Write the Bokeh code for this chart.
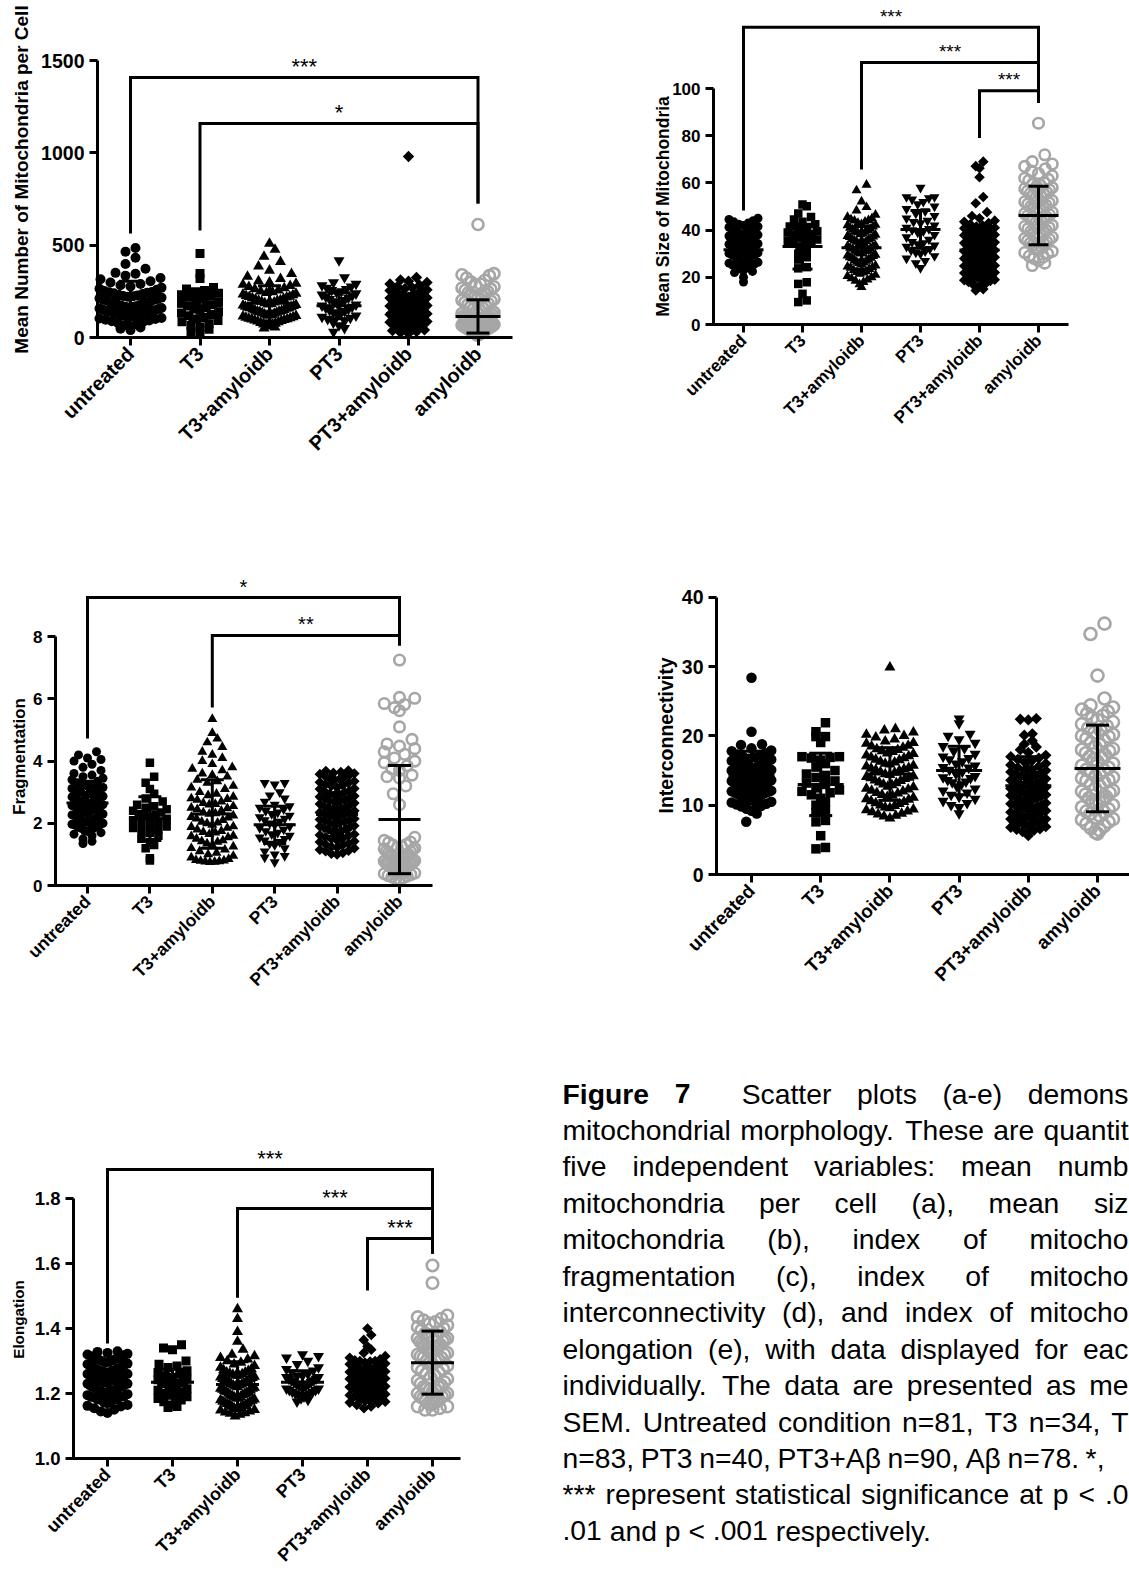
import math
from bokeh.plotting import figure
from bokeh.models import Range1d, FixedTicker, LinearAxis, PrintfTickFormatter
from bokeh.embed import file_html
from bokeh.resources import INLINE
from bokeh.core.properties import value

categories = ["untreated", "T3", "T3+amyloidb", "PT3", "PT3+amyloidb", "amyloidb"]

# ---------------- (a) Mean Number of Mitochondria per Cell ----------------
a_untreated = [485, 465, 432, 398, 372, 350, 345, 335, 322, 315, 305, 298, 290, 283, 276, 270, 264, 258, 252, 247,
               243, 240, 236, 232, 228, 224, 220, 216, 212, 208, 204, 200, 195, 190, 186, 182, 178, 175, 172, 169,
               166, 163, 160, 157, 154, 151, 148, 145, 142, 139, 136, 133, 130, 127, 124, 121, 118, 115, 112, 109,
               106, 103, 100, 96, 92, 88, 84, 78, 72, 66, 60, 54, 47, 40, 245, 225, 205, 185, 165, 145, 125]
a_t3 = [455, 347, 319, 271, 262, 255, 248, 240, 232, 225, 218, 210, 200, 192, 185, 178, 170, 162, 155, 148,
        140, 132, 125, 118, 110, 100, 92, 85, 75, 65, 55, 45, 32, 20]
a_t3ab = [509, 476, 438, 410, 385, 363, 345, 330, 318, 305, 298, 292, 286, 280, 274, 268, 262, 256, 250, 246,
          242, 238, 234, 230, 226, 222, 218, 214, 210, 206, 202, 198, 194, 190, 186, 183, 180, 177, 174, 171,
          168, 165, 162, 159, 156, 153, 150, 147, 144, 141, 138, 135, 132, 129, 126, 123, 120, 117, 114, 111,
          108, 105, 102, 99, 96, 93, 90, 87, 84, 80, 76, 72, 68, 64, 60, 55, 50, 160, 140, 120, 100, 200, 220]
a_pt3 = [417, 325, 298, 290, 282, 275, 268, 262, 256, 250, 244, 238, 232, 226, 220, 214, 208, 202, 196, 190,
         184, 178, 172, 166, 160, 154, 148, 142, 136, 130, 124, 118, 112, 106, 100, 90, 80, 65, 50, 30]
a_pt3ab = [980, 325, 312, 305, 298, 290, 283, 276, 270, 264, 258, 254, 250, 246, 242, 238, 234, 230, 226, 222,
           218, 214, 210, 206, 203, 200, 197, 194, 191, 188, 185, 182, 179, 176, 173, 170, 167, 164, 161, 158,
           155, 152, 149, 146, 143, 140, 137, 134, 131, 128, 125, 122, 119, 116, 113, 110, 107, 104, 101, 98,
           95, 92, 89, 86, 83, 80, 77, 73, 69, 65, 61, 57, 53, 49, 45, 41, 37, 32, 27, 22,
           245, 225, 215, 185, 165, 150, 130, 110, 90, 60]
a_ab = [612, 346, 340, 335, 322, 310, 300, 290, 282, 275, 268, 262, 256, 250, 244, 238, 232, 226, 220, 214,
        208, 202, 196, 190, 184, 178, 172, 166, 160, 154, 148, 142, 136, 130, 124, 118, 112, 106, 100, 95,
        90, 85, 80, 75, 70, 65, 60, 56, 52, 48, 44, 40, 36, 32, 28, 24, 20, 18, 15, 12,
        110, 105, 98, 92, 88, 82, 78, 72, 68, 62, 58, 54, 50, 46, 42, 38, 34, 30]
a_values = [a_untreated, a_t3, a_t3ab, a_pt3, a_pt3ab, a_ab]
a_means = [210, 170, 185, 172, 130, 114]
a_sds = [95, 80, 95, 70, 105, 90]
a_brackets = [(0, 5, 1408, 563, 725, "***"), (1, 5, 1159, 579, 725, "*")]
a_yticks = [0, 500, 1000, 1500]

# ---------------- (b) Mean Size of Mitochondria ----------------
b_untreated = [45, 44.5, 44, 43.5, 43, 42, 41.5, 41, 40.5, 40, 39.5, 39, 38.5, 38, 37.5, 37, 36.5, 36, 35.5, 35,
               34.5, 34, 33.8, 33.5, 33.2, 33, 32.7, 32.4, 32, 31.7, 31.4, 31, 30.7, 30.4, 30, 29.7, 29.4, 29,
               28.7, 28.4, 28, 27.7, 27.4, 27, 26.7, 26.4, 26, 25.6, 25.2, 24.8, 24.4, 24, 23.5, 23, 22.5, 22,
               20, 18, 39.2, 38.2, 37.2, 36.2, 35.2, 34.2, 33.3, 32.2, 31.2, 30.2, 29.2, 28.2, 27.2, 36.8, 35.8,
               34.8, 40.2, 41.2, 42.5, 30.8, 29.9, 32.9, 33.9]
b_t3 = [50.8, 50.1, 47, 45.5, 44.5, 43.5, 42.5, 41.5, 40.5, 39.5, 38.5, 38, 37.5, 37, 36.5, 36, 35.5, 35, 34.5,
        34, 33, 32, 30, 28.5, 27.5, 24.3, 23.8, 17.9, 17.2, 13, 10.2, 9.5, 41, 39]
b_t3ab = [59.2, 56.8, 52.1, 49.7, 48.3, 46.5, 45.5, 45, 44.5, 44, 43.5, 43, 42.5, 42, 41.5, 41, 40.5, 40, 39.5,
          39, 38.5, 38, 37.5, 37, 36.5, 36, 35.5, 35, 34.5, 34, 33.5, 33, 32.5, 32, 31.5, 31, 30.5, 30, 29.5,
          29, 28.5, 28, 27.5, 27, 26.5, 26, 25.5, 25, 24.5, 24, 23.5, 23, 22.5, 22, 21.5, 21, 20.5, 20, 19.5,
          19, 18.5, 18, 17, 15.8, 44.2, 42.2, 40.2, 38.2, 36.2, 34.2, 32.2, 30.2, 28.2, 26.2, 24.2, 22.2, 35.2,
          33.2, 31.2, 29.2, 27.2, 37.2, 39.2]
b_pt3 = [58, 54, 54, 53.5, 53, 52, 51, 50, 49, 48, 47, 46, 45, 44, 43.5, 43, 42, 41, 40.5, 40, 39.5, 39, 38, 37,
         36, 35, 34.5, 34, 33.5, 33, 32, 31.5, 31, 30.5, 30, 29, 28, 27, 26, 24]
b_pt3ab = [69, 67.1, 66.2, 62.4, 54, 51.4, 47.6, 46, 45, 44, 43.5, 43, 42.5, 42, 41.5, 41, 40.5, 40, 39.5, 39,
           38.5, 38, 37.5, 37, 36.5, 36, 35.5, 35, 34.5, 34, 33.5, 33, 32.5, 32, 31.5, 31, 30.5, 30, 29.5, 29,
           28.5, 28, 27.5, 27, 26.5, 26, 25.5, 25, 24.5, 24, 23.5, 23, 22.5, 22, 21.5, 21, 20.5, 20, 19.5, 19,
           18.5, 18, 17.5, 17, 16.5, 16, 15, 14.4, 37.8, 35.8, 33.8, 31.8, 29.8, 27.8, 25.8, 23.8, 21.8, 19.8,
           30.8, 28.8, 26.8, 24.8, 22.8, 20.8, 18.8, 32.8, 34.8, 36.8, 38.8, 40.8]
b_ab = [85.3, 71.9, 69, 68, 67, 66, 65, 64, 63, 62, 61, 60, 59, 58, 57, 56, 55, 54, 53, 52, 51, 50, 49, 48, 47,
        46, 45, 44, 43, 42, 41, 40, 39, 38, 37, 36, 35, 34, 33, 32, 31, 30, 29, 28, 27, 26, 25, 58.5, 56.5,
        54.5, 52.5, 50.5, 48.5, 46.5, 44.5, 42.5, 40.5, 38.5, 36.5, 34.5, 32.5, 30.5, 28.5, 45.5, 47.5, 49.5,
        43.5, 41.5, 39.5, 37.5, 35.5, 33.5, 51.5, 53.5, 55.5, 57.5, 59.5, 61.5]
b_values = [b_untreated, b_t3, b_t3ab, b_pt3, b_pt3ab, b_ab]
b_means = [31.7, 33.0, 32.5, 40.3, 31.6, 46.2]
b_sds = [6.5, 9.5, 9.0, 8.0, 10.0, 12.4]
b_brackets = [(0, 5, 126, 48.3, 94, "***"), (2, 5, 111, 65.7, 94, "***"), (4, 5, 99, 79, 94, "***")]
b_yticks = [0, 20, 40, 60, 80, 100]

# ---------------- (c) Fragmentation ----------------
c_untreated = [4.3, 4.2, 4.1, 4.05, 4.0, 3.9, 3.8, 3.7, 3.6, 3.55, 3.5, 3.45, 3.4, 3.35, 3.3, 3.25, 3.2, 3.15,
               3.1, 3.05, 3.0, 2.95, 2.9, 2.87, 2.84, 2.8, 2.77, 2.74, 2.7, 2.67, 2.64, 2.6, 2.57, 2.54, 2.5,
               2.47, 2.44, 2.4, 2.37, 2.34, 2.3, 2.27, 2.24, 2.2, 2.17, 2.14, 2.1, 2.07, 2.04, 2.0, 1.97, 1.94,
               1.9, 1.87, 1.84, 1.8, 1.77, 1.74, 1.7, 1.65, 1.6, 1.5, 1.42, 1.35, 2.85, 2.75, 2.65, 2.55, 2.45,
               2.35, 2.25, 2.15, 2.05, 1.95, 1.85, 3.02, 3.12, 3.22, 2.62, 2.52, 2.42]
c_t3 = [3.95, 3.5, 3.3, 3.1, 2.95, 2.8, 2.7, 2.6, 2.55, 2.5, 2.45, 2.4, 2.35, 2.3, 2.25, 2.2, 2.15, 2.1, 2.05,
        2.0, 1.95, 1.9, 1.85, 1.8, 1.75, 1.7, 1.6, 1.5, 1.4, 1.3, 1.2, 0.88, 0.8, 2.28]
c_t3ab = [5.35, 4.9, 4.72, 4.6, 4.45, 4.3, 4.2, 4.1, 4.0, 3.9, 3.8, 3.7, 3.6, 3.5, 3.4, 3.3, 3.2, 3.1, 3.0, 2.9,
          2.85, 2.8, 2.75, 2.7, 2.65, 2.6, 2.55, 2.5, 2.45, 2.4, 2.35, 2.3, 2.25, 2.2, 2.15, 2.1, 2.05, 2.0,
          1.95, 1.9, 1.85, 1.8, 1.75, 1.7, 1.65, 1.6, 1.55, 1.5, 1.45, 1.4, 1.35, 1.3, 1.25, 1.2, 1.15, 1.1,
          1.05, 1.0, 0.95, 0.9, 0.85, 0.82, 0.8, 0.79, 0.78, 0.77, 0.76, 0.75, 3.75, 3.55, 3.35, 3.15, 2.95,
          2.78, 2.62, 2.48, 2.32, 2.18, 2.02, 1.88, 1.72, 1.58, 1.42]
c_pt3 = [3.3, 3.3, 3.25, 3.0, 2.9, 2.8, 2.7, 2.6, 2.55, 2.5, 2.45, 2.4, 2.35, 2.3, 2.25, 2.2, 2.15, 2.1, 2.05,
         2.0, 1.95, 1.9, 1.85, 1.8, 1.75, 1.7, 1.65, 1.6, 1.55, 1.5, 1.45, 1.4, 1.35, 1.3, 1.2, 1.1, 1.0, 0.95,
         0.9, 0.75]
c_pt3ab = [3.7, 3.68, 3.65, 3.62, 3.6, 3.58, 3.55, 3.5, 3.45, 3.4, 3.35, 3.3, 3.25, 3.2, 3.15, 3.1, 3.05, 3.0,
           2.95, 2.9, 2.85, 2.8, 2.75, 2.7, 2.65, 2.6, 2.55, 2.5, 2.45, 2.4, 2.35, 2.3, 2.25, 2.2, 2.15, 2.1,
           2.05, 2.0, 1.95, 1.9, 1.85, 1.8, 1.75, 1.7, 1.65, 1.6, 1.55, 1.5, 1.45, 1.4, 1.35, 1.3, 1.25, 1.2,
           1.15, 1.1, 1.05, 1.0, 3.52, 3.42, 3.32, 3.22, 3.12, 3.02, 2.92, 2.82, 2.72, 2.62, 2.52, 2.42, 2.32,
           2.22, 2.12, 2.02, 1.92, 1.82, 1.72, 1.62, 1.52, 1.42, 1.32, 1.22, 1.12, 1.02, 2.88, 2.68, 2.48, 2.28,
           2.08, 1.88]
c_ab = [7.25, 6.05, 6.02, 5.85, 5.82, 5.72, 5.62, 5.1, 4.7, 4.55, 4.48, 4.4, 4.3, 4.22, 4.1, 4.0, 3.95, 3.85,
        3.75, 3.7, 3.55, 3.5, 3.45, 3.2, 2.95, 2.6, 1.55, 1.45, 1.4, 1.38, 1.32, 1.3, 1.25, 1.22, 1.18, 1.15,
        1.1, 1.08, 1.05, 1.0, 0.98, 0.95, 0.92, 0.9, 0.88, 0.85, 0.82, 0.8, 0.78, 0.75, 0.72, 0.7, 0.68, 0.65,
        0.62, 0.6, 0.58, 0.55, 0.52, 0.5, 0.48, 0.45, 0.42, 0.4, 0.38, 0.35, 0.32, 0.3, 0.28, 0.25, 0.22, 0.2,
        1.2, 1.0, 0.9, 0.7, 0.6, 0.5]
c_values = [c_untreated, c_t3, c_t3ab, c_pt3, c_pt3ab, c_ab]
c_means = [2.65, 2.15, 2.3, 1.95, 2.28, 2.12]
c_sds = [0.7, 0.7, 1.1, 0.6, 0.7, 1.74]
c_brackets = [(0, 5, 9.26, 4.73, 7.72, "*"), (2, 5, 8.04, 5.72, 7.72, "**")]
c_yticks = [0, 2, 4, 6, 8]

# ---------------- (d) Interconnectivity ----------------
d_untreated = [28.4, 20.6, 18.8, 18.7, 18.2, 17.8, 17.5, 17.2, 17, 16.7, 16.4, 16.1, 15.8, 15.5, 15.2, 15, 14.8,
               14.6, 14.4, 14.2, 14, 13.8, 13.6, 13.4, 13.2, 13, 12.8, 12.6, 12.4, 12.2, 12, 11.8, 11.5, 11.2, 11,
               10.7, 10.4, 10.1, 9.8, 9.5, 9.2, 8.8, 7.6, 17.9, 17.3, 16.9, 16.6, 16.3, 16.0, 15.7, 15.4, 15.1,
               14.9, 14.7, 14.5, 14.3, 14.1, 13.9, 13.7, 13.5, 13.3, 13.1, 12.9, 12.7, 12.5, 12.3, 12.1, 11.9,
               11.7, 11.4, 11.1, 10.8, 10.5, 10.2, 9.9, 9.7, 14.35, 13.65, 12.95, 15.25, 16.15]
d_t3 = [21.9, 20.6, 19.9, 19.9, 19.05, 17, 17, 16.9, 16.8, 16.5, 16, 15.5, 14.5, 14.3, 14, 13.5, 13, 12.5, 12,
        11.8, 11.5, 11, 10.5, 10, 9.3, 9.0, 7.8, 7.6, 5.6, 3.9, 3.7, 15, 13.2, 12.2]
d_t3ab = [29.9, 21, 20.8, 20.5, 20.2, 19.8, 19.5, 19.2, 18.9, 18.6, 18.3, 18, 17.7, 17.4, 17.1, 16.8, 16.5, 16.2,
          15.9, 15.6, 15.3, 15, 14.7, 14.4, 14.1, 13.8, 13.5, 13.2, 12.9, 12.6, 12.3, 12, 11.7, 11.4, 11.1,
          10.8, 10.5, 10.2, 9.9, 9.6, 9.3, 9, 8.7, 8.4, 8.1, 20.0, 19.0, 18.1, 17.2, 16.3, 15.4, 14.5, 13.6,
          12.7, 11.8, 10.9, 10.0, 9.1, 8.5, 17.8, 16.9, 16.0, 15.1, 14.2, 13.3, 12.4, 11.5, 10.6, 9.7, 18.5,
          17.5, 16.6, 15.7, 14.8, 13.9, 13.0, 12.1, 11.2, 10.3, 9.4, 8.8, 14.0, 15.2]
d_pt3 = [22.5, 21.8, 20.3, 20.0, 19.5, 19.0, 18.5, 18.2, 17.8, 17.4, 17.0, 16.6, 16.3, 16.0, 15.7, 15.4, 15.1,
         14.8, 14.5, 14.2, 13.9, 13.6, 13.3, 13.0, 12.7, 12.4, 12.1, 11.8, 11.5, 11.2, 10.9, 10.6, 10.3, 10.0,
         9.7, 8.8, 15.5, 16.8, 13.4, 14.0]
d_pt3ab = [22.5, 22.4, 22.3, 20.3, 20.1, 19.3, 18.8, 18.4, 18.0, 17.6, 17.2, 16.8, 16.4, 16.0, 15.6, 15.2, 14.8,
           14.4, 14.0, 13.6, 13.2, 12.8, 12.4, 12.0, 11.6, 11.2, 10.8, 10.4, 10.0, 9.6, 9.2, 8.8, 8.4, 8.0, 7.6,
           7.2, 6.8, 6.4, 6.0, 5.6, 17.0, 16.2, 15.4, 14.6, 13.8, 13.0, 12.2, 11.4, 10.6, 9.8, 9.0, 8.2, 7.4,
           6.6, 15.8, 15.0, 14.2, 13.4, 12.6, 11.8, 11.0, 10.2, 9.4, 8.6, 7.8, 7.0, 6.2, 16.6, 14.0, 12.0, 10.0,
           8.0, 13.1, 11.3, 9.5, 7.7, 15.1, 12.9, 10.9, 8.9, 6.9, 14.3, 12.3, 10.3, 8.3, 13.5, 11.5, 9.7, 7.5,
           6.5]
d_ab = [36.2, 34.7, 28.7, 25.4, 24.4, 24.1, 23.8, 23.2, 22.6, 22.0, 21.4, 20.8, 20.2, 19.6, 19.0, 18.4, 17.8,
        17.2, 16.6, 16.0, 15.4, 14.8, 14.2, 13.6, 13.0, 12.4, 11.8, 11.2, 10.6, 10.0, 9.4, 8.8, 8.2, 7.6, 7.0,
        6.4, 5.9, 23.5, 22.3, 21.1, 19.9, 18.7, 17.5, 16.3, 15.1, 13.9, 12.7, 11.5, 10.3, 9.1, 7.9, 6.7, 22.9,
        21.7, 20.5, 19.3, 18.1, 16.9, 15.7, 14.5, 13.3, 12.1, 10.9, 9.7, 8.5, 7.3, 6.1, 20.0, 17.0, 14.0, 11.0,
        8.0, 15.0, 12.0, 9.0, 18.0, 13.5, 10.5]
d_values = [d_untreated, d_t3, d_t3ab, d_pt3, d_pt3ab, d_ab]
d_means = [14.3, 13.0, 14.5, 15.0, 12.8, 15.3]
d_sds = [3.5, 4.5, 3.8, 3.5, 4.2, 6.25]
d_brackets = []
d_yticks = [0, 10, 20, 30, 40]

# ---------------- (e) Elongation ----------------
e_untreated = [1.33, 1.328, 1.325, 1.32, 1.315, 1.31, 1.305, 1.30, 1.295, 1.29, 1.285, 1.28, 1.275, 1.27, 1.265,
               1.26, 1.255, 1.25, 1.245, 1.24, 1.235, 1.23, 1.225, 1.22, 1.215, 1.21, 1.205, 1.20, 1.195, 1.19,
               1.185, 1.18, 1.175, 1.17, 1.165, 1.16, 1.155, 1.15, 1.145, 1.14, 1.322, 1.312, 1.302, 1.292, 1.282,
               1.272, 1.262, 1.252, 1.242, 1.232, 1.222, 1.212, 1.202, 1.192, 1.182, 1.172, 1.162, 1.268, 1.258,
               1.248, 1.238, 1.228, 1.218, 1.208, 1.198, 1.188, 1.278, 1.288, 1.298, 1.308, 1.318, 1.25, 1.24,
               1.23, 1.22, 1.21, 1.26, 1.27, 1.2, 1.19, 1.18]
e_t3 = [1.35, 1.34, 1.335, 1.30, 1.29, 1.285, 1.28, 1.27, 1.265, 1.26, 1.255, 1.25, 1.245, 1.24, 1.235, 1.23,
        1.225, 1.22, 1.215, 1.21, 1.205, 1.20, 1.195, 1.19, 1.185, 1.18, 1.175, 1.17, 1.165, 1.16, 1.157, 1.232,
        1.242, 1.222]
e_t3ab = [1.46, 1.43, 1.39, 1.36, 1.335, 1.32, 1.31, 1.30, 1.29, 1.28, 1.275, 1.27, 1.265, 1.26, 1.255, 1.25,
          1.245, 1.24, 1.235, 1.23, 1.225, 1.22, 1.215, 1.21, 1.205, 1.20, 1.195, 1.19, 1.185, 1.18, 1.175, 1.17,
          1.165, 1.16, 1.155, 1.15, 1.145, 1.14, 1.135, 1.13, 1.272, 1.262, 1.252, 1.242, 1.232, 1.222, 1.212,
          1.202, 1.192, 1.182, 1.172, 1.162, 1.152, 1.142, 1.258, 1.248, 1.238, 1.228, 1.218, 1.208, 1.198,
          1.188, 1.178, 1.168, 1.158, 1.148, 1.138, 1.235, 1.225, 1.215, 1.205, 1.195, 1.185, 1.175, 1.165,
          1.155, 1.245, 1.255, 1.265, 1.285, 1.295, 1.305, 1.315]
e_pt3 = [1.32, 1.315, 1.31, 1.30, 1.29, 1.28, 1.275, 1.27, 1.265, 1.26, 1.255, 1.25, 1.245, 1.24, 1.235, 1.23,
         1.225, 1.22, 1.215, 1.21, 1.205, 1.20, 1.195, 1.19, 1.185, 1.18, 1.175, 1.235, 1.225, 1.215, 1.205,
         1.245, 1.255, 1.195, 1.2, 1.21, 1.22, 1.23, 1.24, 1.25]
e_pt3ab = [1.40, 1.38, 1.365, 1.345, 1.335, 1.325, 1.315, 1.305, 1.30, 1.295, 1.29, 1.285, 1.28, 1.275, 1.27,
           1.265, 1.26, 1.255, 1.25, 1.245, 1.24, 1.235, 1.23, 1.225, 1.22, 1.215, 1.21, 1.205, 1.20, 1.195,
           1.19, 1.185, 1.18, 1.175, 1.17, 1.165, 1.16, 1.155, 1.302, 1.292, 1.282, 1.272, 1.262, 1.252, 1.242,
           1.232, 1.222, 1.212, 1.202, 1.192, 1.182, 1.172, 1.298, 1.288, 1.278, 1.268, 1.258, 1.248, 1.238,
           1.228, 1.218, 1.208, 1.198, 1.188, 1.178, 1.31, 1.30, 1.29, 1.28, 1.27, 1.26, 1.25, 1.24, 1.23, 1.22,
           1.21, 1.20, 1.19, 1.266, 1.256, 1.246, 1.236, 1.226, 1.216, 1.206, 1.274, 1.264, 1.254, 1.244, 1.234]
e_ab = [1.594, 1.54, 1.44, 1.435, 1.43, 1.42, 1.41, 1.40, 1.39, 1.38, 1.37, 1.36, 1.35, 1.34, 1.33, 1.32, 1.31,
        1.30, 1.29, 1.28, 1.27, 1.26, 1.25, 1.24, 1.23, 1.22, 1.21, 1.20, 1.19, 1.18, 1.17, 1.16, 1.15, 1.425,
        1.415, 1.405, 1.395, 1.385, 1.375, 1.365, 1.355, 1.345, 1.335, 1.325, 1.315, 1.305, 1.295, 1.285, 1.275,
        1.265, 1.255, 1.245, 1.235, 1.225, 1.215, 1.205, 1.195, 1.185, 1.175, 1.165, 1.155, 1.15, 1.16, 1.17,
        1.18, 1.19, 1.2, 1.21, 1.22, 1.3, 1.31, 1.32, 1.33, 1.34, 1.35, 1.36, 1.37, 1.38]
e_values = [e_untreated, e_t3, e_t3ab, e_pt3, e_pt3ab, e_ab]
e_means = [1.23, 1.235, 1.228, 1.235, 1.246, 1.295]
e_sds = [0.045, 0.04, 0.07, 0.035, 0.05, 0.097]
e_brackets = [(0, 5, 1.889, 1.354, 1.631, "***"), (2, 5, 1.769, 1.495, 1.631, "***"),
              (4, 5, 1.677, 1.517, 1.631, "***")]
e_yticks = [1.0, 1.2, 1.4, 1.6, 1.8]

# caption text as visible in the figure (right part is cut by the page edge)
caption_lines = [
    "Figure 7  Scatter plots (a-e) demons",
    "mitochondrial morphology. These are quantit",
    "five independent variables: mean numb",
    "mitochondria per cell (a), mean siz",
    "mitochondria (b), index of mitocho",
    "fragmentation (c), index of mitocho",
    "interconnectivity (d), and index of mitocho",
    "elongation (e), with data displayed for eac",
    "individually. The data are presented as me",
    "SEM. Untreated condition n=81, T3 n=34, T",
    "n=83, PT3 n=40, PT3+A\u03b2 n=90, A\u03b2 n=78. *,",
    "*** represent statistical significance at p < .0",
    ".01 and p < .001 respectively.",
]
caption_bold = {(0, 0), (0, 1)}

# ---------------- layout / style ----------------
W, H = 1129, 1573
FONT = "Liberation Sans"
GRAY = "#a6a6a6"
MARKERS = ["circle", "square", "triangle", "inverted_triangle", "square", "circle"]

# page geometry of each panel (pixels from the top-left corner of the page)
geo = {
    "a": dict(yaxis_x=97, xaxis_y=337, cat0=130, dcat=69.5, xend=512, ybase=0.0, kpx=277 / 1500,
              sizes=[10, 9, 11, 11, 8, 11], widths=[72, 46, 64, 45, 45, 45],
              tick_fs="19.5px", xlab_fs="20px", ylab_fs="19px", star_fs="22px", ylab_pos=(21, 179),
              mean_hw=22.5, cap_hw=11.5, fmt=None, ylabel="Mean Number of Mitochondria per Cell"),
    "b": dict(yaxis_x=713, xaxis_y=324, cat0=743, dcat=59, xend=1068, ybase=0.0, kpx=2.36,
              sizes=[9, 8.5, 10, 10, 7.5, 10.5], widths=[38, 38, 38, 38, 38, 40],
              tick_fs="17px", xlab_fs="17.2px", ylab_fs="17.5px", star_fs="19px", ylab_pos=(662, 206),
              mean_hw=20, cap_hw=10, fmt=None, ylabel="Mean Size of Mitochondria"),
    "c": dict(yaxis_x=55, xaxis_y=885, cat0=87, dcat=62.4, xend=432, ybase=0.0, kpx=31.1,
              sizes=[9, 8.5, 10, 10, 7.5, 10.5], widths=[40, 42, 52, 40, 42, 43],
              tick_fs="17px", xlab_fs="17.5px", ylab_fs="16.8px", star_fs="20px", ylab_pos=(18.5, 756),
              mean_hw=21, cap_hw=11.5, fmt=None, ylabel="Fragmentation"),
    "d": dict(yaxis_x=716, xaxis_y=874, cat0=751, dcat=69.2, xend=1129, ybase=0.0, kpx=6.93,
              sizes=[10.5, 9.5, 11, 11, 8, 12], widths=[50, 47, 58, 43, 43, 45],
              tick_fs="19.5px", xlab_fs="18.8px", ylab_fs="19.5px", star_fs="20px", ylab_pos=(665, 735),
              mean_hw=23, cap_hw=11.5, fmt=None, ylabel="Interconnectivity"),
    "e": dict(yaxis_x=73, xaxis_y=1458, cat0=107, dcat=65, xend=460, ybase=1.0, kpx=325,
              sizes=[10, 9, 11, 11, 7.5, 11.5], widths=[50, 38, 45, 43, 43, 43],
              tick_fs="18.5px", xlab_fs="18px", ylab_fs="15.2px", star_fs="22px", ylab_pos=(18, 1319),
              mean_hw=21.5, cap_hw=11, fmt="%.1f", ylabel="Elongation"),
}

cap_geo = dict(x0=562, y0=1093, dy=36.45, fs=28.3,
               right=[1128, 1128, 1128, 1128, 1128, 1128, 1128, 1128, 1128, 1128, 1104, 1128, None])

# Arial / Liberation Sans advance widths (1/1000 em)
AR = {' ': 278, '(': 333, ')': 333, '*': 389, '+': 584, ',': 278, '-': 333, '.': 278, ':': 278, '<': 584,
      '=': 584, 'A': 667, 'E': 667, 'F': 611, 'M': 833, 'P': 667, 'S': 667, 'T': 611, 'U': 722,
      'a': 556, 'b': 556, 'c': 500, 'd': 556, 'e': 556, 'f': 278, 'g': 556, 'h': 556, 'i': 222, 'j': 222,
      'k': 500, 'l': 222, 'm': 833, 'n': 556, 'o': 556, 'p': 556, 'q': 556, 'r': 333, 's': 500, 't': 278,
      'u': 556, 'v': 500, 'w': 722, 'x': 500, 'y': 500, 'z': 500, '\u03b2': 573}
ARB = {'F': 611, 'i': 278, 'g': 611, 'u': 611, 'r': 389, 'e': 556}


def text_w(s, bold=False):
    tab = ARB if bold else AR
    return sum(tab.get(ch, AR.get(ch, 556)) for ch in s) / 1000.0


def swarm(vals, kpx, d_px, maxw_px):
    """GraphPad-like column scatter: bin by marker height, spread horizontally (px offsets)."""
    n = len(vals)
    order = sorted(range(n), key=lambda i: vals[i])
    bins = {}
    for i in order:
        b = int(math.floor(vals[i] * kpx / d_px))
        bins.setdefault(b, []).append(i)
    off = [0.0] * n
    for members in bins.values():
        k = len(members)
        if k == 1:
            continue
        spread = min((k - 1) * d_px, max(maxw_px - d_px, 0))
        s = spread / (k - 1)
        slots = [(j - (k - 1) / 2) * s for j in range(k)]
        slots.sort(key=lambda v: (abs(v), v))
        for i, sl in zip(members, slots):
            off[i] = sl
    return off


def style_axis(ax, fs):
    ax.axis_line_width = 3
    ax.axis_line_color = "black"
    ax.major_tick_line_width = 3
    ax.major_tick_line_color = "black"
    ax.major_tick_in = 0
    ax.major_tick_out = 8
    ax.minor_tick_line_color = None
    ax.major_label_text_font = FONT
    ax.major_label_text_font_style = "bold"
    ax.major_label_text_font_size = fs
    ax.major_label_text_color = "black"
    ax.major_label_standoff = 5


p = figure(width=W, height=H, x_range=Range1d(0, W), y_range=Range1d(H, 0), output_backend="svg",
           toolbar_location=None, x_axis_location=None, y_axis_location=None, min_border=0, title=None)
p.outline_line_color = None
p.background_fill_color = "white"
p.border_fill_color = "white"
p.xgrid.visible = False
p.ygrid.visible = False


def add_panel(nm, vals, means, sds, brackets, yticks, g):
    def X(px):
        return (px - g["cat0"]) / g["dcat"]

    def Y(py):
        return g["ybase"] + (g["xaxis_y"] - py) / g["kpx"]

    p.extra_x_ranges[nm] = Range1d(X(0), X(W))
    p.extra_y_ranges[nm] = Range1d(Y(H), Y(0))
    rn = dict(x_range_name=nm, y_range_name=nm)

    xa = LinearAxis(fixed_location=g["ybase"], **rn)
    style_axis(xa, g["xlab_fs"])
    xa.ticker = FixedTicker(ticks=list(range(len(categories))))
    xa.major_label_overrides = {i: c for i, c in enumerate(categories)}
    xa.major_label_orientation = math.pi / 4
    xa.bounds = (X(g["yaxis_x"] - 1.5), X(g["xend"]))
    p.add_layout(xa, "below")

    ya = LinearAxis(fixed_location=X(g["yaxis_x"]), **rn)
    style_axis(ya, g["tick_fs"])
    ya.ticker = FixedTicker(ticks=yticks)
    ya.bounds = (yticks[0], yticks[-1])
    if g["fmt"]:
        ya.formatter = PrintfTickFormatter(format=g["fmt"])
    p.add_layout(ya, "left")

    for i, v in enumerate(vals):
        d = g["sizes"][i]
        offs = swarm(v, g["kpx"], d + (2 if i == 5 else 0), g["widths"][i])
        xs = [i + o / g["dcat"] for o in offs]
        if i == 5:
            p.scatter(xs, v, marker="circle", size=d, fill_color=None, line_color=GRAY, line_width=2.6, **rn)
        else:
            p.scatter(xs, v, marker=MARKERS[i], size=d, fill_color="black", line_color=None,
                      angle=(math.pi / 4 if i == 4 else 0.0), **rn)

    idx = list(range(len(categories)))
    hw = g["mean_hw"] / g["dcat"]
    cw = g["cap_hw"] / g["dcat"]
    lo = [m - s for m, s in zip(means, sds)]
    hi = [m + s for m, s in zip(means, sds)]
    p.segment(x0=[i - hw for i in idx], y0=means, x1=[i + hw for i in idx], y1=means,
              line_color="black", line_width=3, **rn)
    p.segment(x0=idx, y0=lo, x1=idx, y1=hi, line_color="black", line_width=3, **rn)
    p.segment(x0=[i - cw for i in idx], y0=lo, x1=[i + cw for i in idx], y1=lo,
              line_color="black", line_width=3, **rn)
    p.segment(x0=[i - cw for i in idx], y0=hi, x1=[i + cw for i in idx], y1=hi,
              line_color="black", line_width=3, **rn)

    if brackets:
        p.multi_line(xs=[[l, l, r, r] for (l, r, t, lb, rb, s) in brackets],
                     ys=[[lb, t, t, rb] for (l, r, t, lb, rb, s) in brackets],
                     line_color="black", line_width=3, line_join="miter", **rn)
        gap = 11.0 / g["kpx"]
        p.text(x=[(l + r) / 2 for (l, r, t, lb, rb, s) in brackets],
               y=[t + gap for (l, r, t, lb, rb, s) in brackets],
               text=[s for (l, r, t, lb, rb, s) in brackets],
               text_align="center", text_baseline="alphabetic", text_color="black",
               text_font=value(FONT), text_font_size=value(g["star_fs"]), **rn)

    lx, ly = g["ylab_pos"]
    p.text(x=[lx], y=[ly], text=[g["ylabel"]], angle=math.pi / 2, text_align="center",
           text_baseline="middle", text_font=value(FONT), text_font_style=value("bold"),
           text_font_size=value(g["ylab_fs"]), text_color="black")


add_panel("a", a_values, a_means, a_sds, a_brackets, a_yticks, geo["a"])
add_panel("b", b_values, b_means, b_sds, b_brackets, b_yticks, geo["b"])
add_panel("c", c_values, c_means, c_sds, c_brackets, c_yticks, geo["c"])
add_panel("d", d_values, d_means, d_sds, d_brackets, d_yticks, geo["d"])
add_panel("e", e_values, e_means, e_sds, e_brackets, e_yticks, geo["e"])

# caption: justified lines, word by word
fs = cap_geo["fs"]
reg = dict(x=[], y=[], text=[])
bld = dict(x=[], y=[], text=[])
for li, line in enumerate(caption_lines):
    toks = line.split(" ")
    words, gaps_after = [], []
    for t in toks:
        if t == "":
            if gaps_after:
                gaps_after[-1] += 1
            continue
        words.append(t)
        gaps_after.append(1)
    gaps_after[-1] = 0
    widths = [text_w(w, (li, k) in caption_bold) * fs for k, w in enumerate(words)]
    yb = cap_geo["y0"] + li * cap_geo["dy"]
    right = cap_geo["right"][li]
    units = sum(gaps_after)
    if right is None or units == 0:
        g_px = AR[' '] / 1000.0 * fs
    else:
        g_px = (right - cap_geo["x0"] - sum(widths)) / units
    x = cap_geo["x0"]
    for k, w in enumerate(words):
        tgt = bld if (li, k) in caption_bold else reg
        tgt["x"].append(x)
        tgt["y"].append(yb)
        tgt["text"].append(w)
        x += widths[k] + gaps_after[k] * g_px

p.text(x=reg["x"], y=reg["y"], text=reg["text"], text_align="left", text_baseline="alphabetic",
       text_font=value(FONT), text_font_size=value("%gpx" % fs), text_color="black")
p.text(x=bld["x"], y=bld["y"], text=bld["text"], text_align="left", text_baseline="alphabetic",
       text_font=value(FONT), text_font_style=value("bold"), text_font_size=value("%gpx" % fs),
       text_color="black")

open("out.html", "w").write(file_html(p, INLINE))
